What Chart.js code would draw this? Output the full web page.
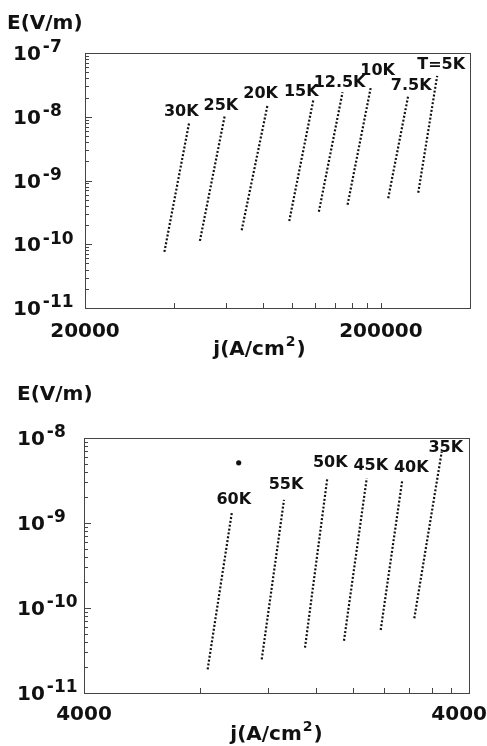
<!DOCTYPE html>
<html lang="en">
<head>
<meta charset="utf-8">
<title>E(j) curves</title>
<script src="https://cdn.jsdelivr.net/npm/chart.js@4.4.3/dist/chart.umd.min.js"></script>
<style>
  *{margin:0;padding:0;box-sizing:border-box}
  body{background:#fff;width:487px;height:746px;overflow:hidden;position:relative}
  .panel{position:absolute;left:0;width:487px;height:373px}
  #p1{top:0}
  #p2{top:373px}
</style>
</head>
<body>
<div class="panel" id="p1"><canvas id="c1" width="487" height="373"></canvas></div>
<div class="panel" id="p2"><canvas id="c2" width="487" height="373"></canvas></div>
<script>
// upper panel: low temperatures, j in A/cm2, E in V/m (start / end of each sweep)
const topTemps = ['30K', '25K', '20K', '15K', '12.5K', '10K', '7.5K', 'T=5K']
const topJ = [
  [37100, 45000], [48900, 59400], [67700, 82800], [98000, 118100],
  [123400, 148400], [154300, 184600], [211700, 247300], [267400, 309800],
]
const topE = [
  [7.6e-11, 8.2e-9], [1.13e-10, 1.07e-8], [1.66e-10, 1.54e-8], [2.31e-10, 1.80e-8],
  [3.24e-10, 2.43e-8], [4.17e-10, 2.81e-8], [5.28e-10, 2.13e-8], [6.43e-10, 4.37e-8],
]
// label offsets (px) from the upper end of each curve
const topLabelDx = [-8, -4, -7, -12, -3, 7, 3, 4]
const topLabelDy = [-10, -9, -11, -9, -9, -17, -10, -11]

// lower panel: high temperatures
const botTemps = ['60K', '55K', '50K', '45K', '40K', '35K']
const botJ = [
  [8380, 9680], [11580, 13230], [15000, 17140], [18940, 21700], [23590, 26840], [28840, 33980],
]
const botE = [
  [1.90e-11, 1.31e-9], [2.49e-11, 1.87e-9], [3.41e-11, 3.36e-9], [4.12e-11, 3.36e-9],
  [5.51e-11, 3.21e-9], [7.57e-11, 6.90e-9],
]
const botLabelDx = [2, 2, 3, 4, 9, 4]
const botLabelDy = [-13, -15, -15, -12, -12, -4]
const strayJ = [10090]
const strayE = [5.1e-9]

// axis ticks
const topYDecades = [1e-11, 1e-10, 1e-9, 1e-8, 1e-7]
const topYLabels = ['-11', '-10', '-9', '-8', '-7']
const topXTicks = [40000, 60000, 80000, 100000, 120000, 140000, 160000, 180000, 200000]
const topXLabelVals = [20000, 200000]
const topXLabels = ['20000', '200000']

const botYDecades = [1e-11, 1e-10, 1e-9, 1e-8]
const botYLabels = ['-11', '-10', '-9', '-8']
const botXTicks = [8000, 12000, 16000, 20000, 24000, 28000, 32000, 36000]
const botXLabelVals = [4000, 40000]
const botXLabels = ['4000', '4000']

const FONT = '"DejaVu Sans", sans-serif'
const INK = '#111'

function curveSets(js, es) {
  return js.map((j, i) => ({
    data: j.map((x, k) => ({ x, y: es[i][k] })),
    showLine: true,
    borderColor: INK,
    borderWidth: 2.2,
    borderDash: [2, 1.9],
    pointRadius: 0,
    fill: false,
  }))
}

function framePlugin(o) {
  return {
    id: 'frame',
    afterDraw(chart) {
      const ctx = chart.ctx
      const { left, top, right, bottom } = chart.chartArea
      const xs = chart.scales.x, ys = chart.scales.y
      ctx.save()
      ctx.strokeStyle = '#444'
      ctx.lineWidth = 1
      ctx.strokeRect(left + 0.5, top + 0.5, right - left, bottom - top)

      // inward ticks on the left axis: decades long, 2..9 short
      ctx.beginPath()
      o.yDecades.forEach((d, i) => {
        const y = Math.round(ys.getPixelForValue(d)) + 0.5
        ctx.moveTo(left, y); ctx.lineTo(left + 7, y)
        if (i < o.yDecades.length - 1) {
          for (let k = 2; k <= 9; k++) {
            const ym = Math.round(ys.getPixelForValue(d * k)) + 0.5
            ctx.moveTo(left, ym); ctx.lineTo(left + 4, ym)
          }
        }
      })
      // inward ticks on the bottom axis
      o.xTicks.forEach(v => {
        const x = Math.round(xs.getPixelForValue(v)) + 0.5
        ctx.moveTo(x, bottom); ctx.lineTo(x, bottom - 5)
      })
      ctx.stroke()

      ctx.fillStyle = INK
      // y labels as 10^n
      o.yDecades.forEach((d, i) => {
        const y = ys.getPixelForValue(d)
        ctx.font = 'bold 20px ' + FONT
        ctx.textAlign = 'left'
        ctx.textBaseline = 'middle'
        ctx.fillText('10', o.yLabelX, y + 2)
        const w = ctx.measureText('10').width
        ctx.font = 'bold 17px ' + FONT
        ctx.fillText(o.yLabels[i], o.yLabelX + w + 2, y - 5)
      })
      // x labels
      ctx.font = 'bold 20px ' + FONT
      ctx.textBaseline = 'top'
      o.xLabelVals.forEach((v, i) => {
        const w = ctx.measureText(o.xLabels[i]).width
        let cx = xs.getPixelForValue(v)
        cx = Math.min(cx, chart.width - w / 2)
        ctx.textAlign = 'center'
        ctx.fillText(o.xLabels[i], cx, bottom + o.xLabelGap)
      })

      // axis titles
      ctx.textAlign = 'left'
      ctx.textBaseline = 'alphabetic'
      ctx.font = 'bold 20px ' + FONT
      ctx.fillText('E(V/m)', o.eTitle[0], o.eTitle[1])
      const a = 'j(A/cm', b = ')'
      const wa = ctx.measureText(a).width
      ctx.font = 'bold 14px ' + FONT
      const ws = ctx.measureText('2').width
      ctx.font = 'bold 20px ' + FONT
      const wb = ctx.measureText(b).width
      let jx = o.jTitle[0] - (wa + ws + 1 + wb) / 2
      ctx.fillText(a, jx, o.jTitle[1])
      ctx.font = 'bold 14px ' + FONT
      ctx.fillText('2', jx + wa + 1, o.jTitle[1] - 9)
      ctx.font = 'bold 20px ' + FONT
      ctx.fillText(b, jx + wa + ws + 2, o.jTitle[1])

      // temperature labels above each curve
      ctx.font = 'bold 16px ' + FONT
      ctx.textAlign = 'center'
      ctx.textBaseline = 'middle'
      o.temps.forEach((t, i) => {
        const p = o.js[i].length - 1
        const x = xs.getPixelForValue(o.js[i][p]) + o.dx[i]
        const y = ys.getPixelForValue(o.es[i][p]) + o.dy[i]
        ctx.fillText(t, x, y)
      })
      ctx.restore()
    },
  }
}

function makeChart(id, o) {
  const datasets = curveSets(o.js, o.es)
  if (o.extraJ) {
    datasets.push({
      data: o.extraJ.map((x, k) => ({ x, y: o.extraE[k] })),
      showLine: false,
      pointRadius: 2.6,
      pointBackgroundColor: INK,
      pointBorderWidth: 0,
    })
  }
  return new Chart(document.getElementById(id), {
    type: 'scatter',
    data: { datasets },
    options: {
      responsive: false,
      animation: false,
      events: [],
      layout: { padding: o.padding },
      plugins: { legend: { display: false }, tooltip: { enabled: false } },
      scales: {
        x: { type: 'logarithmic', min: o.xMin, max: o.xMax, display: false },
        y: { type: 'logarithmic', min: o.yMin, max: o.yMax, display: false },
      },
    },
    plugins: [framePlugin(o)],
  })
}

makeChart('c1', {
  js: topJ, es: topE, temps: topTemps, dx: topLabelDx, dy: topLabelDy,
  xMin: 20000, xMax: 400000, yMin: 1e-11, yMax: 1e-7,
  padding: { left: 85, top: 53, right: 17, bottom: 65 },
  yDecades: topYDecades, yLabels: topYLabels, yLabelX: 13,
  xTicks: topXTicks, xLabelVals: topXLabelVals, xLabels: topXLabels, xLabelGap: 14,
  eTitle: [7, 29], jTitle: [259, 355],
})

makeChart('c2', {
  js: botJ, es: botE, temps: botTemps, dx: botLabelDx, dy: botLabelDy,
  extraJ: strayJ, extraE: strayE,
  xMin: 4000, xMax: 40000, yMin: 1e-11, yMax: 1e-8,
  padding: { left: 84, top: 65, right: 18, bottom: 53 },
  yDecades: botYDecades, yLabels: botYLabels, yLabelX: 17,
  xTicks: botXTicks, xLabelVals: botXLabelVals, xLabels: botXLabels, xLabelGap: 12,
  eTitle: [17, 27], jTitle: [276, 367],
})
</script>
</body>
</html>
